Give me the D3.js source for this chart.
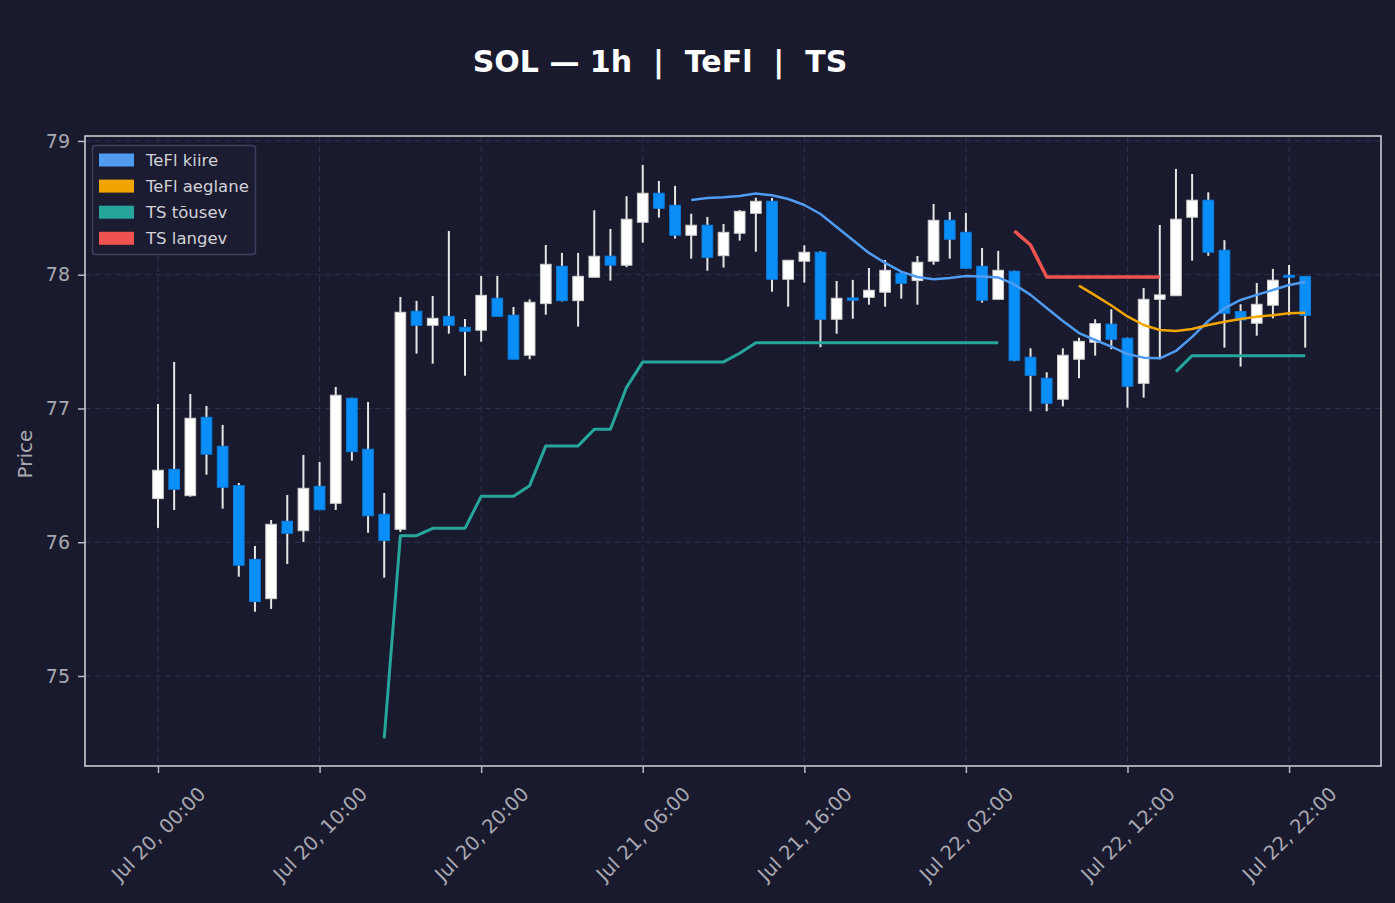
<!DOCTYPE html>
<html>
<head>
<meta charset="utf-8">
<script src="https://cdn.jsdelivr.net/npm/d3@7"></script>
<style>
  body { margin: 0; background: #1a1a2e; }
  svg { display: block; font-family: "DejaVu Sans", sans-serif; }
</style>
</head>
<body>
<div id="chart"></div>
<script>
// hourly candles, Jul 20 00:00 -> Jul 22 23:00
var startTime = Date.UTC(2024, 6, 20, 0, 0);
var hour = 3600 * 1000;

var opens = [76.326, 76.545, 76.348, 76.934, 76.717, 76.423, 75.872, 75.578, 76.157, 76.086,
  76.418, 76.291, 77.076, 76.695, 76.209, 76.097, 77.727, 77.622, 77.689, 77.607,
  77.585, 77.824, 77.697, 77.398, 77.784, 78.063, 77.806, 77.981, 78.138, 78.071,
  78.392, 78.609, 78.519, 78.295, 78.370, 78.142, 78.310, 78.459, 78.549, 77.966,
  78.101, 78.168, 77.667, 77.826, 77.831, 77.869, 78.011, 77.956, 78.101, 78.407,
  78.317, 78.063, 77.816, 78.026, 77.383, 77.226, 77.069, 77.368, 77.495, 77.630,
  77.525, 77.188, 77.816, 77.843, 78.430, 78.557, 78.183, 77.724, 77.637, 77.772,
  77.996, 77.988];
var highs = [77.034, 77.348, 77.108, 77.019, 76.877, 76.443, 75.972, 76.166, 76.353, 76.652,
  76.600, 77.161, 77.080, 77.049, 76.368, 77.834, 77.804, 77.841, 78.327, 77.669,
  77.991, 77.991, 77.759, 77.816, 78.222, 78.163, 78.163, 78.482, 78.342, 78.587,
  78.821, 78.701, 78.664, 78.456, 78.432, 78.379, 78.484, 78.576, 78.574, 78.108,
  78.220, 78.175, 77.953, 77.961, 78.050, 78.110, 78.020, 78.140, 78.529, 78.469,
  78.462, 78.200, 78.178, 78.030, 77.450, 77.271, 77.450, 77.529, 77.667, 77.742,
  77.530, 77.901, 78.372, 78.791, 78.753, 78.616, 78.258, 77.779, 77.938, 78.043,
  78.073, 77.990];
var lows = [76.107, 76.241, 76.340, 76.505, 76.251, 75.742, 75.481, 75.501, 75.837, 76.002,
  76.240, 76.241, 76.610, 76.071, 75.735, 76.077, 77.410, 77.335, 77.559, 77.245,
  77.499, 77.689, 77.368, 77.368, 77.701, 77.800, 77.612, 77.980, 77.956, 78.056,
  78.240, 78.427, 78.270, 78.120, 78.030, 78.053, 78.255, 78.172, 77.873, 77.761,
  77.941, 77.458, 77.559, 77.671, 77.776, 77.761, 77.821, 77.776, 78.075, 78.120,
  78.045, 77.791, 77.816, 77.353, 76.979, 76.979, 77.016, 77.226, 77.395, 77.443,
  77.006, 77.081, 77.368, 77.840, 78.105, 78.142, 77.455, 77.313, 77.544, 77.674,
  77.697, 77.455];
var closes = [76.538, 76.396, 76.927, 76.658, 76.411, 75.828, 75.556, 76.134, 76.067, 76.403,
  76.243, 77.099, 76.677, 76.198, 76.013, 77.719, 77.622, 77.674, 77.622, 77.577,
  77.846, 77.689, 77.368, 77.794, 78.078, 77.806, 77.988, 78.138, 78.071, 78.415,
  78.609, 78.497, 78.295, 78.370, 78.130, 78.317, 78.474, 78.549, 77.966, 78.108,
  78.168, 77.667, 77.824, 77.809, 77.884, 78.033, 77.936, 78.093, 78.407, 78.265,
  78.048, 77.809, 78.033, 77.360, 77.248, 77.039, 77.398, 77.502, 77.634, 77.517,
  77.166, 77.816, 77.849, 78.415, 78.557, 78.168, 77.712, 77.662, 77.779, 77.959,
  77.981, 77.697];

// indicator lines (null = not drawn)
var _ = null;
var teflFast = [_, _, _, _, _, _, _, _, _, _, _, _, _, _, _, _, _, _, _, _,
  _, _, _, _, _, _, _, _, _, _, _, _, _,
  78.559, 78.574, 78.579, 78.589, 78.607, 78.594, 78.566, 78.521, 78.454, 78.357,
  78.260, 78.163, 78.088, 78.023, 77.983, 77.966, 77.976, 77.991, 77.987, 77.980,
  77.927, 77.849, 77.751, 77.654, 77.564, 77.512, 77.462, 77.407, 77.380, 77.375,
  77.430, 77.535, 77.654, 77.749, 77.811, 77.849, 77.886, 77.923, 77.946];
var teflSlow = [_, _, _, _, _, _, _, _, _, _, _, _, _, _, _, _, _, _, _, _,
  _, _, _, _, _, _, _, _, _, _, _, _, _, _, _, _, _, _, _, _,
  _, _, _, _, _, _, _, _, _, _, _, _, _, _, _, _, _,
  77.918, 77.845, 77.770, 77.688, 77.624, 77.587, 77.579, 77.594, 77.624, 77.649,
  77.669, 77.686, 77.697, 77.712, 77.716];
var tsUp = [_, _, _, _, _, _, _, _, _, _, _, _, _, _,
  74.534, 76.049, 76.049, 76.104, 76.104, 76.104, 76.343, 76.343, 76.343, 76.423,
  76.720, 76.720, 76.720, 76.844, 76.844, 77.158, 77.348, 77.348, 77.348, 77.348,
  77.348, 77.348, 77.413, 77.492, 77.492, 77.492, 77.492, 77.492, 77.492, 77.492,
  77.492, 77.492, 77.492, 77.492, 77.492, 77.492, 77.492, 77.492, 77.492,
  _, _, _, _, _, _, _, _, _, _,
  77.275, 77.395, 77.395, 77.395, 77.395, 77.395, 77.395, 77.395, 77.395];
var tsDown = [_, _, _, _, _, _, _, _, _, _, _, _, _, _, _, _, _, _, _, _,
  _, _, _, _, _, _, _, _, _, _, _, _, _, _, _, _, _, _, _, _,
  _, _, _, _, _, _, _, _, _, _, _, _, _,
  78.327, 78.222, 77.983, 77.983, 77.983, 77.983, 77.983, 77.983, 77.983, 77.983,
  _, _, _, _, _, _, _, _, _];

var yTicks = [75, 76, 77, 78, 79];
var xTickHours = [0, 10, 20, 30, 40, 50, 60, 70];

var legendNames = ["TeFl kiire", "TeFl aeglane", "TS tõusev", "TS langev"];
var legendColors = ["#4f9bf0", "#f0a500", "#26a69a", "#ef5350"];

var width = 1395, height = 903;
var margin = {left: 85, right: 14, top: 136, bottom: 137};
var bg = "#1a1a2e";
var upColor = "#ffffff", downColor = "#0a8ef8";

var times = opens.map(function(d, i) { return new Date(startTime + i * hour); });

var svg = d3.select("#chart").append("svg")
  .attr("width", width).attr("height", height);
svg.append("rect").attr("width", width).attr("height", height).attr("fill", bg);

var x = d3.scaleUtc()
  .domain([new Date(startTime - 4.518 * hour), new Date(startTime + 75.69 * hour)])
  .range([margin.left, width - margin.right]);
var y = d3.scaleLinear()
  .domain([74.327, 79.037])
  .range([height - margin.bottom, margin.top]);

var plotBottom = height - margin.bottom;
var xTicks = xTickHours.map(function(h) { return new Date(startTime + h * hour); });

// grid
var grid = svg.append("g");
grid.selectAll(".gx").data(xTicks).enter().append("line")
  .attr("x1", function(d) { return x(d); }).attr("x2", function(d) { return x(d); })
  .attr("y1", margin.top).attr("y2", plotBottom)
  .attr("stroke", "#2e3050").attr("stroke-width", 1).attr("stroke-dasharray", "6,4");
grid.selectAll(".gy").data(yTicks).enter().append("line")
  .attr("x1", margin.left).attr("x2", width - margin.right)
  .attr("y1", function(d) { return y(d); }).attr("y2", function(d) { return y(d); })
  .attr("stroke", "#2e3050").attr("stroke-width", 1).attr("stroke-dasharray", "6,4");

// candles
var candleW = (x(new Date(startTime + hour)) - x(new Date(startTime))) * 0.66;
var candles = svg.append("g");
candles.selectAll(".wick").data(opens).enter().append("line")
  .attr("x1", function(d, i) { return x(times[i]); })
  .attr("x2", function(d, i) { return x(times[i]); })
  .attr("y1", function(d, i) { return y(highs[i]); })
  .attr("y2", function(d, i) { return y(lows[i]); })
  .attr("stroke", "#e6e6e6").attr("stroke-width", 2);
candles.selectAll(".body").data(opens).enter().append("rect")
  .attr("x", function(d, i) { return x(times[i]) - candleW / 2; })
  .attr("y", function(d, i) { return y(Math.max(opens[i], closes[i])); })
  .attr("width", candleW)
  .attr("height", function(d, i) { return Math.max(1.5, Math.abs(y(opens[i]) - y(closes[i]))); })
  .attr("fill", function(d, i) { return closes[i] >= opens[i] ? upColor : downColor; })
  .attr("stroke", function(d, i) { return closes[i] >= opens[i] ? "#d0d0d0" : "#0a7ee0"; })
  .attr("stroke-width", 1);

// indicator lines
function drawLine(values, color, w) {
  var line = d3.line()
    .defined(function(d) { return d !== null; })
    .x(function(d, i) { return x(times[i]); })
    .y(function(d) { return y(d); });
  svg.append("path").datum(values)
    .attr("d", line).attr("fill", "none")
    .attr("stroke", color).attr("stroke-width", w)
    .attr("stroke-linejoin", "round");
}
drawLine(teflFast, legendColors[0], 2.5);
drawLine(teflSlow, legendColors[1], 2.5);
drawLine(tsUp, legendColors[2], 3);
drawLine(tsDown, legendColors[3], 3.5);

// frame
svg.append("rect")
  .attr("x", margin.left).attr("y", margin.top)
  .attr("width", width - margin.right - margin.left)
  .attr("height", plotBottom - margin.top)
  .attr("fill", "none").attr("stroke", "#d6d6dc").attr("stroke-width", 1.5);

// axes
var fmt = d3.utcFormat("%b %d, %H:%M");
var xAxis = svg.append("g")
  .attr("transform", "translate(0," + plotBottom + ")")
  .call(d3.axisBottom(x).tickValues(xTicks).tickFormat(fmt).tickSize(7));
xAxis.select(".domain").remove();
xAxis.selectAll(".tick line").attr("stroke", "#b8b8c0").attr("stroke-width", 1.5);
xAxis.selectAll(".tick text")
  .attr("y", 0).attr("dy", "0.35em")
  .attr("transform", "translate(0,68) rotate(-45)")
  .attr("text-anchor", "middle")
  .attr("fill", "#a9a9b3").attr("font-size", 19.5).attr("font-family", "DejaVu Sans");

var yAxis = svg.append("g")
  .attr("transform", "translate(" + margin.left + ",0)")
  .call(d3.axisLeft(y).tickValues(yTicks).tickFormat(d3.format("d")).tickSize(7).tickPadding(8));
yAxis.select(".domain").remove();
yAxis.selectAll(".tick line").attr("stroke", "#b8b8c0").attr("stroke-width", 1.5);
yAxis.selectAll(".tick text")
  .attr("fill", "#a9a9b3").attr("font-size", 19).attr("font-family", "DejaVu Sans");

svg.append("text")
  .attr("transform", "translate(25,454) rotate(-90)")
  .attr("text-anchor", "middle").attr("dy", "0.35em")
  .attr("fill", "#a9a9b3").attr("font-size", 20)
  .text("Price");

// title
svg.append("text")
  .attr("x", 660).attr("y", 72)
  .attr("text-anchor", "middle")
  .attr("fill", "#ffffff").attr("font-size", 30).attr("font-weight", "bold")
  .style("white-space", "pre")
  .text("SOL — 1h  |  TeFl  |  TS");

// legend
var legend = svg.append("g");
legend.append("rect")
  .attr("x", 92.5).attr("y", 145.5).attr("width", 163).attr("height", 109)
  .attr("rx", 3).attr("fill", "#1b1c31").attr("stroke", "#3d3f5e").attr("stroke-width", 1.5);
var rows = legend.selectAll(".row").data(legendNames).enter().append("g")
  .attr("transform", function(d, i) { return "translate(99," + (160 + i * 26.1) + ")"; });
rows.append("rect")
  .attr("x", 0).attr("y", -6.5).attr("width", 35).attr("height", 13)
  .attr("fill", function(d, i) { return legendColors[i]; });
rows.append("text")
  .attr("x", 47).attr("dy", "0.35em")
  .attr("fill", "#d2d2d8").attr("font-size", 16.5)
  .text(function(d) { return d; });
</script>
</body>
</html>
